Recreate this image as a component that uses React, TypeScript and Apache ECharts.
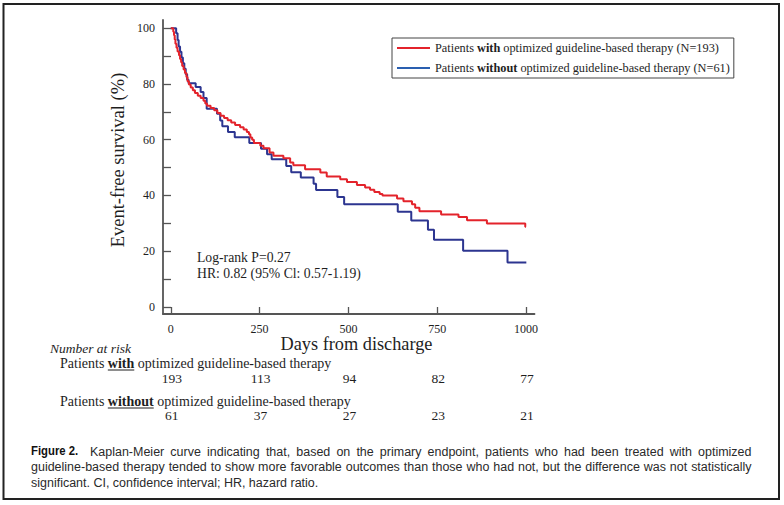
import React, { useEffect, useRef } from "react";
import * as echarts from "echarts";

const SERIF = "'Liberation Serif', 'Times New Roman', serif";
const SANS = "'Liberation Sans', Arial, sans-serif";

const seriesWith = "Patients with optimized guideline-based therapy (N=193)";
const seriesWithout = "Patients without optimized guideline-based therapy (N=61)";
const riskLabelWith = "Patients with optimized guideline-based therapy";
const riskLabelWithout = "Patients without optimized guideline-based therapy";

const xTickValues = [0, 250, 500, 750, 1000];
const yTickValues = [0, 10, 20, 30, 40, 50, 60, 70, 80, 90, 100];
const yLabelValues = [0, 20, 40, 60, 80, 100];

// [day, event-free survival %] (Kaplan-Meier steps)
const withSurvival: [number, number][] = [
  [0, 100], [7, 98.8], [9, 97.5], [11, 96], [13, 94.5], [16, 93], [19, 91.7], [23, 90.3], [26, 89],
  [29, 87.8], [32, 86.5], [36, 85.2], [40, 84], [44, 82.5], [47, 81], [51, 79.8], [56, 78.8], [62, 77.8],
  [68, 76.8], [76, 75.8], [84, 75], [92, 74], [97, 73], [102, 72.2], [112, 71.4], [122, 70.6], [131, 69.6],
  [140, 68.6], [150, 67.8], [160, 67], [170, 66.2], [181, 65.3], [195, 64.5], [205, 63.7], [214, 62.8],
  [220, 62], [224, 60.8], [229, 60], [234, 58.8], [252, 57.8], [261, 56.9], [278, 55.4], [289, 54.2],
  [317, 53.3], [336, 51.8], [345, 50.8], [378, 49.4], [421, 48.2], [439, 46.8], [477, 45.8], [496, 44.8],
  [524, 43.7], [547, 42.8], [561, 42], [573, 41.2], [588, 40.5], [596, 40], [637, 38.9], [655, 37.9],
  [679, 36.8], [688, 35.6], [700, 34.3], [761, 33.1], [810, 32.2], [834, 31.1], [890, 29.9], [998, 28.7],
  [1000, 28.7],
];
const withoutSurvival: [number, number][] = [
  [0, 100], [15, 98.2], [19, 95.8], [22, 93.5], [26, 91.6], [30, 89.5], [34, 87.5], [38, 85.5], [42, 83.5],
  [46, 81.5], [50, 80.3], [70, 78.9], [84, 77.1], [92, 75], [101, 71.1], [130, 69.3], [139, 66.9],
  [145, 64.8], [161, 62.8], [180, 60.9], [221, 58.8], [254, 56.8], [271, 54.8], [284, 53], [325, 50.6],
  [339, 48.3], [366, 46.4], [402, 44.2], [409, 41.9], [469, 39.4], [488, 36.8], [639, 34.1], [677, 31],
  [724, 27.7], [741, 24.1], [823, 20.1], [948, 15.9], [1001, 15.9],
];

const riskWith = [193, 113, 94, 82, 77];
const riskWithout = [61, 37, 27, 23, 21];
const statsLines = ["Log-rank P=0.27", "HR: 0.82 (95% Cl: 0.57-1.19)"];
const captionTag = "Figure 2.";
const captionLines = [
  "Kaplan-Meier curve indicating that, based on the primary endpoint, patients who had been treated with optimized",
  "guideline-based therapy tended to show more favorable outcomes than those who had not, but the difference was not statistically",
  "significant. CI, confidence interval; HR, hazard ratio.",
];

const RED = "#e3232b";
const NAVY = "#2c3590";
const TEXT = "#1e1e1e";
const AXIS = "#555";

let measureCtx: CanvasRenderingContext2D | null = null;
function tw(text: string, size: number, family: string, weight = "normal", style = "normal") {
  if (!measureCtx) measureCtx = document.createElement("canvas").getContext("2d");
  measureCtx!.font = `${style} ${weight} ${size}px ${family}`;
  return measureCtx!.measureText(text).width;
}

function splitLabel(name: string) {
  const m = name.match(/^(Patients )(with|without)( .*)$/);
  return m ? [m[1], m[2], m[3]] : [name, "", ""];
}

const CAP_SIZE = 13.5;
const CAP_SCALE = 0.925;

function capText(text: string, x: number, y: number, bold = false) {
  return {
    type: "text", x, y, scaleX: bold ? 0.84 : CAP_SCALE, silent: true,
    style: {
      text, fontSize: CAP_SIZE, fontFamily: SANS, fontWeight: bold ? "bold" : "normal",
      fill: bold ? "#111" : "#2a2a2a", verticalAlign: "middle", align: "left",
    },
  };
}

function justified(text: string, x0: number, x1: number, y: number) {
  const words = text.split(" ");
  const widths = words.map((w) => tw(w, CAP_SIZE, SANS) * CAP_SCALE);
  const total = widths.reduce((a, b) => a + b, 0);
  const gap = Math.max(2.5, (x1 - x0 - total) / (words.length - 1));
  let x = x0;
  return words.map((w, i) => {
    const el = capText(w, x, y);
    x += widths[i] + gap;
    return el;
  });
}

export default function App() {
  const ref = useRef<HTMLDivElement>(null);
  useEffect(() => {
    const chart = echarts.init(ref.current!, null, { renderer: "svg" });
    const legendSize = 12.3;
    const legendRich = {
      n: { fontFamily: SERIF, fontSize: legendSize, lineHeight: 14, color: TEXT },
      b: { fontFamily: SERIF, fontSize: legendSize, lineHeight: 14, color: TEXT, fontWeight: "bold" },
    };
    const legendLeft = 392, legendTop = 38, legendPad = [3, 4, 3, 5], legendIconW = 33, legendGap = 6;
    chart.setOption({
      animation: false,
      grid: { left: 163, right: 249.5, top: 20, bottom: 191, containLabel: false, outerBoundsMode: "none" },
      xAxis: {
        type: "value", min: -22, max: 1024,
        axisLine: { show: true, onZero: false, lineStyle: { color: AXIS, width: 1.8 } },
        axisTick: { show: true, inside: true, length: 7, customValues: xTickValues, lineStyle: { color: AXIS, width: 1.3 } },
        axisLabel: {
          customValues: xTickValues, margin: 9, fontFamily: SERIF, fontSize: 12, lineHeight: 12, color: TEXT,
          formatter: (v: number) => String(v),
        },
        splitLine: { show: false },
      },
      yAxis: {
        type: "value", min: -2.6, max: 103,
        axisLine: { show: true, onZero: false, lineStyle: { color: AXIS, width: 1.8 } },
        axisTick: { show: true, inside: true, length: 8, customValues: yTickValues, lineStyle: { color: AXIS, width: 1.3 } },
        axisLabel: {
          customValues: yLabelValues, margin: 8, fontFamily: SERIF, fontSize: 12, color: TEXT,
          formatter: (v: number) => String(v),
        },
        splitLine: { show: false },
      },
      legend: {
        orient: "vertical", left: legendLeft, top: legendTop, padding: legendPad, itemGap: legendGap,
        itemWidth: legendIconW, itemHeight: 2, icon: "rect", selectedMode: false,
        borderColor: "#444", borderWidth: 1, backgroundColor: "#fff",
        data: [{ name: seriesWith }, { name: seriesWithout, itemStyle: { color: "#2a5fb0" } }],
        formatter: (name: string) => {
          const [a, b, c] = splitLabel(name);
          return `{n|${a}}{b|${b}}{n|${c}}`;
        },
        textStyle: { fontFamily: SERIF, fontSize: legendSize, lineHeight: 14, color: TEXT, rich: legendRich },
      },
      series: [
        {
          name: seriesWithout, type: "line", step: "end", data: withoutSurvival, showSymbol: false,
          lineStyle: { color: NAVY, width: 2 }, itemStyle: { color: NAVY }, z: 2,
        },
        {
          name: seriesWith, type: "line", step: "end", data: withSurvival, showSymbol: false,
          lineStyle: { color: RED, width: 2 }, itemStyle: { color: RED }, z: 3,
        },
      ],
    });

    const graphics: any[] = [];
    graphics.push({
      type: "rect", shape: { x: 3.5, y: 4, width: 775.5, height: 495 }, silent: true,
      style: { fill: "none", stroke: "#222", lineWidth: 2 },
    });
    const legendTextX = legendLeft + legendPad[3] + legendIconW + 5;
    [seriesWith, seriesWithout].forEach((name, i) => {
      const [a, b] = splitLabel(name);
      const x = legendTextX + tw(a, legendSize, SERIF);
      const w = tw(b, legendSize, SERIF, "bold");
      const cy = legendTop + legendPad[0] + 7 + i * (14 + legendGap);
      graphics.push({ type: "line", silent: true, shape: { x1: x, y1: cy + 5.5, x2: x + w, y2: cy + 5.5 }, style: { stroke: TEXT, lineWidth: 1 } });
    });
    graphics.push({
      type: "text", x: 118, y: 160, rotation: Math.PI / 2, silent: true,
      style: { text: "Event-free survival (%)", fontFamily: SERIF, fontSize: 18.5, fill: TEXT, align: "center", verticalAlign: "middle" },
    });
    graphics.push({
      type: "text", x: 356.5, y: 344, silent: true,
      style: { text: "Days from discharge", fontFamily: SERIF, fontSize: 18.3, lineHeight: 14, fill: TEXT, align: "center", verticalAlign: "middle" },
    });
    statsLines.forEach((t, i) => {
      graphics.push({
        type: "text", x: 197, y: 257 + i * 16.6, silent: true,
        style: { text: t, fontFamily: SERIF, fontSize: 13.7, fill: TEXT, align: "left", verticalAlign: "middle" },
      });
    });
    graphics.push({
      type: "text", x: 50, y: 348, silent: true,
      style: { text: "Number at risk", fontFamily: SERIF, fontSize: 13.5, fontStyle: "italic", fill: TEXT, align: "left", verticalAlign: "middle" },
    });
    const riskSize = 14;
    const riskRows = [
      { label: riskLabelWith, values: riskWith, labelY: 363.5, valueY: 378 },
      { label: riskLabelWithout, values: riskWithout, labelY: 401.5, valueY: 415 },
    ];
    riskRows.forEach((row) => {
      const [a, b, c] = splitLabel(row.label);
      const lx = 60;
      graphics.push({
        type: "text", x: lx, y: row.labelY, silent: true,
        style: {
          text: `{n|${a}}{b|${b}}{n|${c}}`, align: "left", verticalAlign: "middle",
          rich: {
            n: { fontFamily: SERIF, fontSize: riskSize, fill: TEXT, lineHeight: 13 },
            b: { fontFamily: SERIF, fontSize: riskSize, fill: TEXT, fontWeight: "bold", lineHeight: 13 },
          },
        },
      });
      const ux = lx + tw(a, riskSize, SERIF);
      const uw = tw(b, riskSize, SERIF, "bold");
      graphics.push({ type: "line", silent: true, shape: { x1: ux, y1: row.labelY + 6.5, x2: ux + uw, y2: row.labelY + 6.5 }, style: { stroke: TEXT, lineWidth: 1 } });
      row.values.forEach((v, i) => {
        const px = chart.convertToPixel({ xAxisIndex: 0 }, xTickValues[i]) as number;
        graphics.push({
          type: "text", x: px + 1, y: row.valueY, silent: true,
          style: { text: String(v), fontFamily: SERIF, fontSize: 13.5, lineHeight: 12, fill: TEXT, align: "center", verticalAlign: "middle" },
        });
      });
    });
    graphics.push(capText(captionTag, 31, 451, true));
    graphics.push(...justified(captionLines[0], 90, 751.5, 451));
    graphics.push(...justified(captionLines[1], 31, 751.5, 466.5));
    graphics.push(capText(captionLines[2], 31, 482));

    chart.setOption({ graphic: graphics });
    return () => chart.dispose();
  }, []);
  return <div ref={ref} style={{ position: "fixed", left: 0, top: 0, width: 784, height: 505, background: "#fff" }} />;
}
